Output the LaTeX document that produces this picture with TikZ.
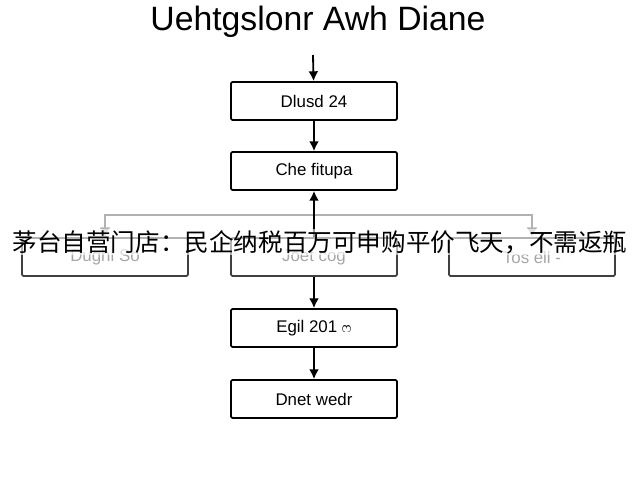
\documentclass[tikz,border=0pt]{standalone}
\usepackage{fontspec}
\setmainfont{Liberation Sans}
\newfontfamily\cjk{Noto Sans CJK SC}
\newfontfamily\sinhala[Script=Sinhala]{Abhaya Libre}
\usetikzlibrary{arrows.meta}
\begin{document}
\begin{tikzpicture}[x=0.025cm,y=-0.025cm,thick,
            stepbox/.style = {draw,rounded corners=1pt,line width=1.2pt,
                minimum width=4.15cm,minimum height=0.95cm,font=\large},
            side/.style = {stepbox,draw=black!75,text=black!35},
            flow/.style = {-{Latex[length=7pt,width=7pt]},line width=1.3pt},
            branch/.style = {-{Latex[length=7pt,width=8pt]},line width=1.3pt,black!30}]

        \useasboundingbox (0,0) rectangle (640,480);

        % Title
        \node[font=\fontsize{24}{28}\selectfont] (title) at (318,22) {Uehtgslonr Awh Diane};
        \coordinate (top) at (313,55);

        % Main column
        \node[stepbox] (d) at (314,101) {Dlusd 24};
        \node[stepbox] (c) at (314,171) {Che fitupa};
        \node[side] (m) at (314,257) {Joet cog};
        \node[stepbox] (e) at (314,328) {Egil 201 {\sinhala ෆ}};
        \node[stepbox] (n) at (314,399) {Dnet wedr};

        % Side boxes
        \node[side] (l) at (105,257) {Dughl So};
        \node[side] (r) at (532,257) {Tos ell -};

        % Arrows
        \draw[flow] (top) -- (d);
        \draw[flow] (d) -- (c);
        \draw[flow] (m) -- (e);
        \draw[flow] (e) -- (n);

        % Branch
        \coordinate (hub) at (314,215);
        \draw[branch] (hub) -| (l);
        \draw[branch] (hub) -| (r);
        \draw[flow] (m) -- (c);

        % Overlay
        \node[font=\cjk\fontsize{17.5}{20}\selectfont,fill=white,fill opacity=0.6,text opacity=1,inner sep=1pt] (banner) at (320,242) {茅台自营门店：民企纳税百万可申购平价飞天，不需返瓶};
        \end{tikzpicture}
\end{document}
